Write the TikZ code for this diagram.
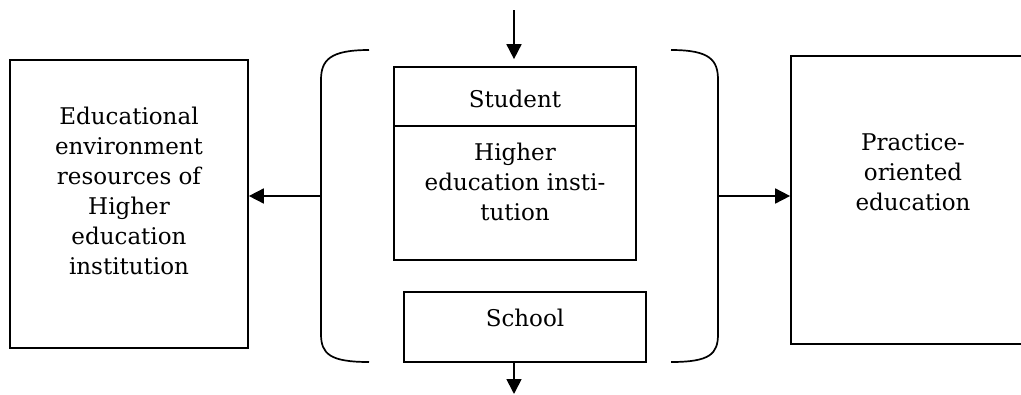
\documentclass[tikz,border=0pt]{standalone}
\usepackage{fontspec}
\setmainfont{DejaVu Serif}
\usetikzlibrary{arrows.meta,positioning}
\tikzset{
  blk/.style={draw, line width=1.7pt, inner sep=0pt},
  txt/.style={align=center, inner sep=0pt, anchor=north,
    font=\fontsize{23}{30}\selectfont},
  arr/.style={line width=1.7pt, -{Triangle[length=15pt,width=15pt]}},
  brk/.style={line width=1.7pt}
}
\begin{document}
\begin{tikzpicture}[x=1pt,y=-1pt]
		%\draw[help lines] (0,0) grid (1021,394);
		\useasboundingbox (0,0) rectangle (1021,394);
		\clip (0,0) rectangle (1021,394);
		
		\node[blk, minimum width=238, minimum height=288] (res) at (129,204) {};
		\node[blk, minimum width=244, minimum height=288] (prac) at (913,200) {};
		\node[blk, minimum width=242, minimum height=59] (stud) at (515,96.5) {};
		\node[blk, minimum width=242, minimum height=134, below=-1.7pt of stud] (hei) {};
		\node[blk, minimum width=242, minimum height=70] (school) at (525,327) {};
		
		\node[txt] (restxt) at ([yshift=-48]res.north) {Educational\\environment\\resources of\\Higher\\education\\institution};
		\node[txt] (practxt) at ([yshift=-78]prac.north) {Practice-\\oriented\\education};
		\node[txt, anchor=center] (studtxt) at ([yshift=-2]stud.center) {Student};
		\node[txt] (heitxt) at ([yshift=-18]hei.north) {Higher\\education insti-\\tution};
		\node[txt] (schooltxt) at ([yshift=-18]school.north) {School};
		
		% brackets
		\draw[brk] (369,50) .. controls (330,50) and (321,60) .. (321,80) -- (321,334) .. controls (321,354) and (330,362) .. (369,362);
		\draw[brk] (671,50) .. controls (710,50) and (718,60) .. (718,80) -- (718,334) .. controls (718,354) and (710,362) .. (671,362);
		
		\coordinate (lb) at (321,196);
		\coordinate (rb) at (718,196);
		\coordinate (top) at (514,10);
		\coordinate (bot) at (514,394);
		
		\draw[arr] (lb) -- (lb -| res.east);
		\draw[arr] (rb) -- (rb -| prac.west);
		\draw[arr] (top) -- ([yshift=7]top |- stud.north);
		\draw[arr] (top |- school.south) -- (bot);
		\end{tikzpicture}
\end{document}
